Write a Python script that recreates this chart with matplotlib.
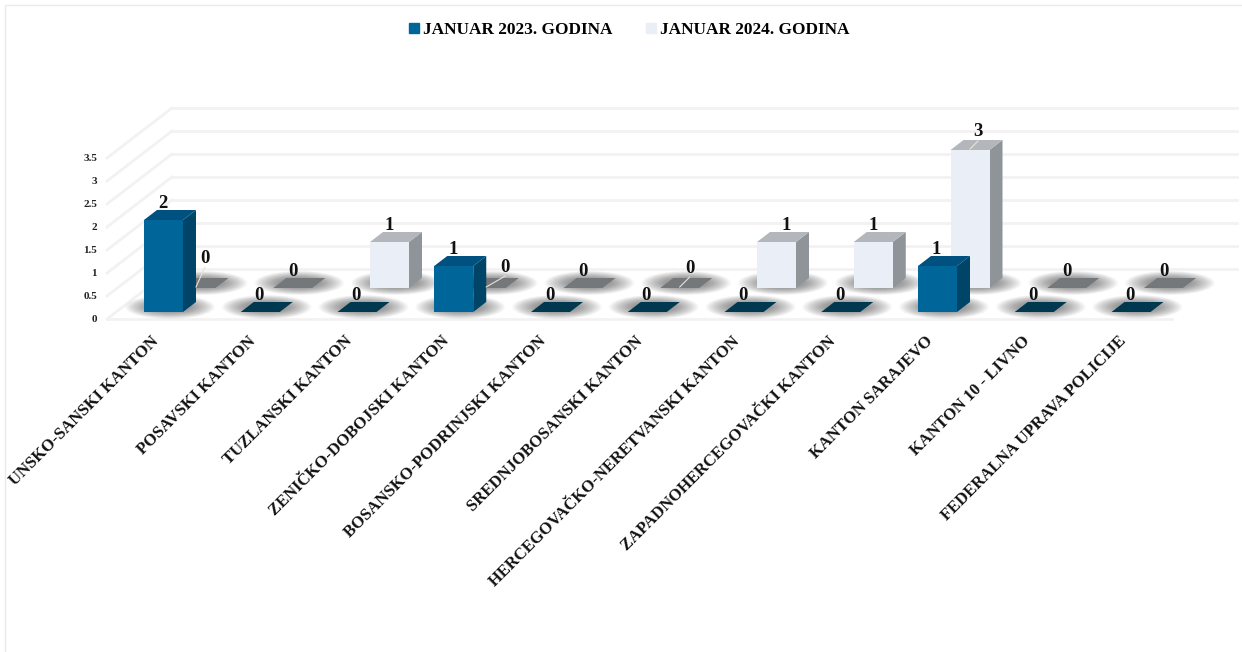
"""Faux 3D clustered column chart, January 2023 vs January 2024 by canton."""
import matplotlib

matplotlib.use("Agg")
import matplotlib.pyplot as plt
from matplotlib.patches import Ellipse, Patch, Polygon

CATEGORIES = [
    "UNSKO-SANSKI KANTON",
    "POSAVSKI KANTON",
    "TUZLANSKI KANTON",
    "ZENIČKO-DOBOJSKI KANTON",
    "BOSANSKO-PODRINJSKI KANTON",
    "SREDNJOBOSANSKI KANTON",
    "HERCEGOVAČKO-NERETVANSKI KANTON",
    "ZAPADNOHERCEGOVAČKI KANTON",
    "KANTON SARAJEVO",
    "KANTON 10 - LIVNO",
    "FEDERALNA UPRAVA POLICIJE",
]
VALUES_2023 = [2, 0, 0, 1, 0, 0, 0, 0, 1, 0, 0]
VALUES_2024 = [0, 0, 1, 0, 0, 0, 1, 1, 3, 0, 0]
Y_TICKS = [0, 0.5, 1, 1.5, 2, 2.5, 3, 3.5]
Y_TICK_LABELS = ["0", "0.5", "1", "1.5", "2", "2.5", "3", "3.5"]
LABEL_2023 = "JANUAR 2023. GODINA"
LABEL_2024 = "JANUAR 2024. GODINA"

W, H = 1242, 652
# pixels per category / per unit, and where category 0 / value 0 sit
PX_X, PX_Y = 96.75, 46.0
X0_PX, Y0_PX = 163.5, 319.0

SERIF = "Liberation Serif"
GRID = "#f3f1f1"
BAR_W = 39 / PX_X
DEPTH_X, DEPTH_Y = 13 / PX_X, 10 / PX_Y
WALL_X, WALL_Y = 65 / PX_X, 50 / PX_Y
FLOOR_L, FLOOR_R = (107 - X0_PX) / PX_X, (1172 - X0_PX) / PX_X

plt.rcParams["font.family"] = SERIF
fig = plt.figure(figsize=(W / 100, H / 100), dpi=100)
ax = fig.add_axes([0, 0, 1, 1])
ax.set_xlim(-X0_PX / PX_X, (W - X0_PX) / PX_X)
ax.set_ylim((Y0_PX - H) / PX_Y, Y0_PX / PX_Y)
ax.axis("off")

# chart frame, only the top and left edges show
ax.plot([5 / W, 5 / W, 1], [0, 1 - 5 / H, 1 - 5 / H], transform=ax.transAxes,
        color="#eeeaea", lw=1, zorder=0, clip_on=False)

# walls and floor grid
for t in Y_TICKS:
    ax.plot([FLOOR_L, FLOOR_L + WALL_X], [t, t + WALL_Y], color=GRID, lw=2, zorder=1)
    ax.plot([FLOOR_L + WALL_X, FLOOR_R + WALL_X], [t + WALL_Y] * 2, color=GRID, lw=2, zorder=1)
ax.plot([FLOOR_L, FLOOR_R], [0, 0], color=GRID, lw=2, zorder=1)


def draw_column(xc, base, value, front, side, top, z):
    """One box: shadow on the floor, then side, top and front faces."""
    xl, xr = xc - BAR_W / 2, xc + BAR_W / 2
    dx, dy = DEPTH_X, DEPTH_Y
    h = base + value
    sx, sy = xc + dx / 2, base + dy / 2
    for i in range(24):
        ax.add_patch(Ellipse((sx, sy), (90 - i * 2.0) / PX_X, (24 - i * 0.6) / PX_Y,
                             color="#303030", alpha=0.022, lw=0, zorder=z))
    if value > 0:
        ax.add_patch(Polygon([(xr, base), (xr + dx, base + dy), (xr + dx, h + dy), (xr, h)],
                             color=side, lw=0, zorder=z + 1))
        ax.add_patch(Polygon([(xl, base), (xr, base), (xr, h), (xl, h)],
                             color=front, lw=0, zorder=z + 1))
    ax.add_patch(Polygon([(xl, h), (xr, h), (xr + dx, h + dy), (xl + dx, h + dy)],
                         color=top, lw=0, zorder=z + 1))


BASE_2023, BASE_2024 = 7 / PX_Y, 31 / PX_Y
SHIFT_2024 = 32.5 / PX_X
# moved data labels of the back series: index -> (dx, dy) in pixels
NUDGE_2024 = {0: (9, 13), 3: (19, 4), 5: (10, 3), 6: (10, 0), 8: (8, 1)}
LEADERS = [0, 3, 5, 8]

for i, v in enumerate(VALUES_2024):
    xc = i + SHIFT_2024
    if v > 0:
        draw_column(xc, BASE_2024, v, "#eaeff7", "#8f9499", "#b3b7bb", 3)
    else:
        draw_column(xc, BASE_2024, 0, "#eaeff7", "#8f9499", "#74787a", 3)

for i, v in enumerate(VALUES_2023):
    if v > 0:
        draw_column(i, BASE_2023, v, "#006699", "#004468", "#005080", 6)
    else:
        draw_column(i, BASE_2023, 0, "#006699", "#004468", "#00384f", 6)

for i, v in enumerate(VALUES_2024):
    dx, dy = NUDGE_2024.get(i, (0, 0))
    x = i + SHIFT_2024 + dx / PX_X
    y = BASE_2024 + v + (17 + dy) / PX_Y
    ax.text(x, y, str(v), ha="center", va="center", fontsize=13.5,
            fontweight="bold", color="#111111", zorder=10)
    if i in LEADERS:
        ax.plot([i + SHIFT_2024, x], [BASE_2024 + v + 1 / PX_Y, y - 9 / PX_Y],
                color="#e8e2da", lw=0.8, zorder=9)

for i, v in enumerate(VALUES_2023):
    ax.text(i - 1 / PX_X, BASE_2023 + v + 17 / PX_Y, str(v), ha="center", va="center",
            fontsize=13.5, fontweight="bold", color="#111111", zorder=10)

# value axis labels
for t, lab in zip(Y_TICKS, Y_TICK_LABELS):
    ax.text((97 - X0_PX) / PX_X, t, lab, ha="right", va="center", fontsize=8,
            fontweight="bold", color="#222222")

# category labels
for i, lab in enumerate(CATEGORIES):
    ax.text(i - 7 / PX_X, -20 / PX_Y, lab, rotation=45, rotation_mode="anchor",
            ha="right", va="center", fontsize=12, fontweight="bold", color="#111111")

handles = [Patch(color="#006699", label=LABEL_2023), Patch(color="#eaeff7", label=LABEL_2024)]
fig.legend(handles=handles, loc="center", bbox_to_anchor=(629 / W, 1 - 30 / H), ncol=2,
           frameon=False, handlelength=0.58, handleheight=0.58, handletextpad=0.23,
           columnspacing=1.96, prop={"family": SERIF, "weight": "bold", "size": 12.4})

fig.savefig("out.png", dpi=100)
